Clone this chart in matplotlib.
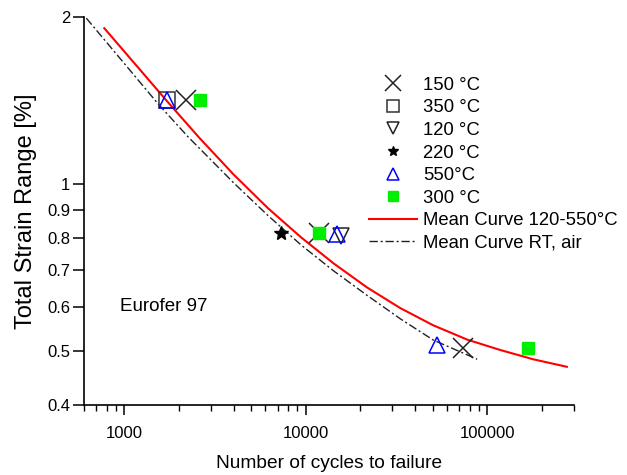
import matplotlib.pyplot as plt
import numpy as np
from matplotlib.ticker import FixedLocator, NullLocator, LogLocator, NullFormatter, FixedFormatter

plt.rcParams['font.family'] = ['Liberation Sans', 'DejaVu Sans']

# data
n_150 = [2190, 11780, 73800]
s_150 = [1.42, 0.817, 0.507]
n_350 = [1720]
s_350 = [1.42]
n_120 = [15600]
s_120 = [0.806]
n_220 = [7290]
s_220 = [0.817]
n_550 = [1720, 14800, 53100]
s_550 = [1.42, 0.815, 0.513]
n_300 = [2620, 11780, 168000]
s_300 = [1.42, 0.817, 0.507]

mean_n = [776, 1702, 2582, 4018, 6180, 9400, 14260, 21900, 33300, 50500, 77600, 117800, 178900, 275000]
mean_s = [1.910, 1.417, 1.214, 1.040, 0.906, 0.803, 0.720, 0.651, 0.598, 0.557, 0.525, 0.503, 0.484, 0.469]
rt_n = [618, 1538, 2248, 4018, 6180, 9400, 14260, 21900, 33300, 50500, 88100]
rt_s = [1.991, 1.395, 1.217, 1.005, 0.879, 0.778, 0.698, 0.630, 0.572, 0.524, 0.484]

y_ticks = [0.4, 0.5, 0.6, 0.7, 0.8, 0.9, 1, 2]
y_labels = ['0.4', '0.5', '0.6', '0.7', '0.8', '0.9', '1', '2']

fig = plt.figure(figsize=(6.27, 4.75), dpi=100)
ax = fig.add_axes([0.134, 0.147, 0.781, 0.817])

ax.plot(n_150, s_150, 'x', color='#222222', markersize=15, markeredgewidth=1.1, label='150 °C', zorder=3)
ax.plot(n_350, s_350, 's', color='#333333', markerfacecolor='none', markersize=11, markeredgewidth=1.1, label='350 °C', zorder=3)
ax.plot(n_120, s_120, 'v', color='#222222', markerfacecolor='none', markersize=11, markeredgewidth=1.1, label='120 °C', zorder=3)
ax.plot(n_220, s_220, '*', color='black', markersize=10, label='220 °C', zorder=3)
ax.plot(n_550, s_550, '^', color='blue', markerfacecolor='none', markersize=11, markeredgewidth=1.1, label='550°C', zorder=4)
ax.plot(n_300, s_300, 's', color='#00ee00', markeredgecolor='#00ee00', markersize=9, label='300 °C', zorder=5)
ax.plot(mean_n, mean_s, '-', color='red', linewidth=1.5, label='Mean Curve 120-550°C', zorder=2)
ax.plot(rt_n, rt_s, color='#222222', linewidth=1.0, dashes=(6, 2, 1.5, 2), label='Mean Curve RT, air', zorder=2)

ax.set_xscale('log')
ax.set_yscale('log')
ax.set_xlim(600, 300000)
ax.set_ylim(0.4, 2)

ax.yaxis.set_major_locator(FixedLocator(y_ticks))
ax.yaxis.set_major_formatter(FixedFormatter(y_labels))
ax.yaxis.set_minor_locator(NullLocator())
ax.xaxis.set_major_locator(FixedLocator([1000, 10000, 100000]))
ax.xaxis.set_major_formatter(FixedFormatter(['1000', '10000', '100000']))
ax.xaxis.set_minor_locator(LogLocator(base=10, subs=np.arange(2, 10)))
ax.xaxis.set_minor_formatter(NullFormatter())

ax.spines['top'].set_visible(False)
ax.spines['right'].set_visible(False)
ax.spines['left'].set_linewidth(1.2)
ax.spines['bottom'].set_linewidth(1.2)
ax.tick_params(which='major', width=1.1, labelsize=12)
ax.tick_params(axis='x', which='major', length=7, pad=8)
ax.tick_params(axis='y', which='major', length=8, pad=2)
ax.tick_params(which='minor', length=4, width=1.0)

ax.set_xlabel('Number of cycles to failure', fontsize=13.8, labelpad=10)
ax.set_ylabel('Total Strain Range [%]', fontsize=17, labelpad=7)

ax.text(0.073, 0.242, 'Eurofer 97', transform=ax.transAxes, fontsize=13.5)

ax.legend(loc='upper left', bbox_to_anchor=(0.566, 0.865), frameon=False, fontsize=13.3,
          handlelength=2.6, handletextpad=0.35, labelspacing=0.3, markerscale=0.75,
          borderaxespad=0)

plt.savefig('out.png', dpi=100)
